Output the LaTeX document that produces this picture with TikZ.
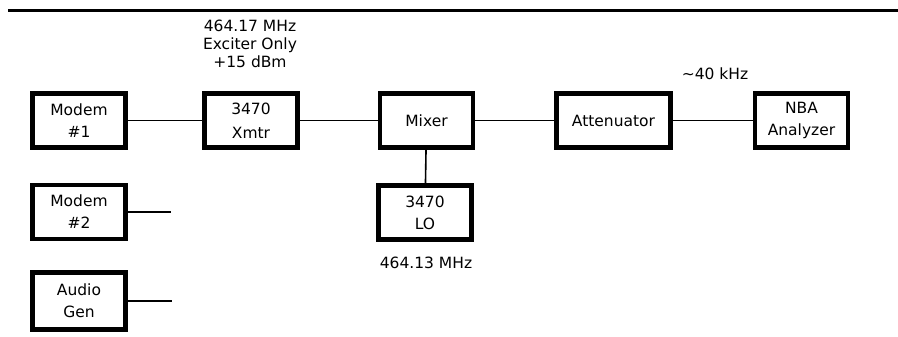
\documentclass[tikz,border=0pt]{standalone}
\usepackage{fontspec}
\setmainfont{DejaVu Sans}
\usepackage{tikz}

\tikzset{
	blk/.style={draw, line width=4.8pt, minimum width=93pt, minimum height=54pt, inner sep=0pt, align=center, font=\fontsize{15.5}{22}\selectfont},
	wire/.style={line width=1.6pt},
	lbl/.style={align=center, font=\fontsize{15.5}{18}\selectfont}
}

\begin{document}
\begin{tikzpicture}[x=1pt, y=-1pt]
		\useasboundingbox (0, 0) rectangle (898, 337);

		\draw[line width=2.6pt] (8, 10.5) -- (898, 10.5);

		\node[blk] (modemA) at (79, 120.5) {Modem\\\#1};
		\node[blk] (xmtr) at (251, 120.5) {3470\\[2pt]Xmtr};
		\node[blk] (mixer) at (426.5, 120.5) {Mixer};
		\node[blk, minimum width=114pt] (atten) at (613.5, 120.5) {Attenuator};
		\node[blk] (nba) at (801.5, 120.5) {NBA\\Analyzer};
		\node[blk] (lo) at (425, 212.5) {3470\\LO};
		\node[blk] (modemB) at (79, 212) {Modem\\\#2};
		\node[blk, minimum height=57pt] (audio) at (79, 301) {Audio\\Gen};

		\coordinate (endB) at (171, 212);
		\coordinate (endC) at (172, 301);

		\draw[wire] (modemA) -- (xmtr);
		\draw[wire] (xmtr) -- (mixer);
		\draw[wire] (mixer) -- (atten);
		\draw[wire] (atten) -- (nba);
		\draw[wire] (mixer) -- (lo);
		\draw[wire] (modemB.east) -- (endB);
		\draw[wire] (audio.east) -- (endC);

		\node[lbl] (xmtrtxt) at (250, 44) {464.17 MHz\\Exciter Only\\+15 dBm};
		\node[lbl] (ifreq) at (715, 74) {∼40 kHz};
		\node[lbl] (lofreq) at (426, 263) {464.13 MHz};
	\end{tikzpicture}
\end{document}
